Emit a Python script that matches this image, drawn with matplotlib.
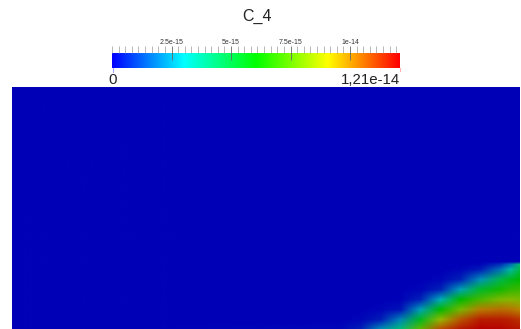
import numpy as np
import matplotlib
matplotlib.use("Agg")
import matplotlib.pyplot as plt
from matplotlib.colors import LinearSegmentedColormap
from matplotlib.ticker import MultipleLocator
from matplotlib.lines import Line2D
from matplotlib.image import NonUniformImage

# ---------------- data ----------------
title = "C_4"
vmin_val = 0.0
vmax_val = 1.21e-14
range_labels = ["0", "1,21e-14"]
major_ticks = [2.5e-15, 5e-15, 7.5e-15, 1e-14]
major_tick_labels = ["2.5e-15", "5e-15", "7.5e-15", "1e-14"]

# domain node coordinates (domain units, x to the right, y upwards)
x_nodes = [0, 328, 348, 368, 388, 408, 428, 448, 468, 488, 498, 507]
y_nodes = [0, 9, 19, 29, 39, 49, 59, 64, 67, 79, 241]

# C_4 as a fraction of its maximum, rows = y_nodes (bottom -> top), cols = x_nodes
c4_frac = [
    [0, 0.01, 0.04, 0.18, 0.33, 0.62, 0.88, 0.96, 1.00, 0.99, 0.98, 0.97],
    [0, 0.00, 0.01, 0.04, 0.18, 0.45, 0.70, 0.88, 0.96, 0.96, 0.95, 0.93],
    [0, 0.00, 0.00, 0.01, 0.03, 0.22, 0.50, 0.66, 0.83, 0.85, 0.84, 0.82],
    [0, 0.00, 0.00, 0.00, 0.005, 0.05, 0.24, 0.50, 0.60, 0.67, 0.68, 0.67],
    [0, 0.00, 0.00, 0.00, 0.00, 0.01, 0.05, 0.22, 0.44, 0.53, 0.57, 0.58],
    [0, 0.00, 0.00, 0.00, 0.00, 0.00, 0.01, 0.05, 0.20, 0.40, 0.46, 0.50],
    [0, 0.00, 0.00, 0.00, 0.00, 0.00, 0.00, 0.01, 0.04, 0.16, 0.28, 0.40],
    [0, 0.00, 0.00, 0.00, 0.00, 0.00, 0.00, 0.00, 0.01, 0.07, 0.15, 0.34],
    [0, 0.00, 0.00, 0.00, 0.00, 0.00, 0.00, 0.00, 0.00, 0.00, 0.00, 0.00],
    [0, 0.00, 0.00, 0.00, 0.00, 0.00, 0.00, 0.00, 0.00, 0.00, 0.00, 0.00],
    [0, 0.00, 0.00, 0.00, 0.00, 0.00, 0.00, 0.00, 0.00, 0.00, 0.00, 0.00],
]

# ---------------- colours ----------------
rainbow = [(0, 0, 1), (0, 1, 1), (0, 1, 0), (1, 1, 0), (1, 0, 0)]
cmap = LinearSegmentedColormap.from_list("blue_red_rainbow", rainbow, N=256)
shade = 0.72
cmap_shaded = LinearSegmentedColormap.from_list(
    "shaded", [tuple(shade * c for c in col) for col in rainbow], N=256)

FONT = ["Liberation Sans", "DejaVu Sans"]
W, H = 521, 329

fig = plt.figure(figsize=(W / 100, H / 100), dpi=100)
fig.patch.set_facecolor("white")

# ---------------- field ----------------
ax = fig.add_axes([12 / W, 0, 507 / W, 241 / H])
C = np.array(c4_frac) * vmax_val
im = NonUniformImage(ax, interpolation="bilinear", cmap=cmap_shaded,
                     extent=(x_nodes[0], x_nodes[-1], y_nodes[0], y_nodes[-1]))
im.set_clim(vmin_val, vmax_val)
im.set_data(np.array(x_nodes, float), np.array(y_nodes, float), C)
ax.add_image(im)
ax.set_xlim(x_nodes[0], x_nodes[-1])
ax.set_ylim(y_nodes[0], y_nodes[-1])
ax.axis("off")

# ---------------- colour bar ----------------
cax = fig.add_axes([112 / W, (H - 68) / H, 288 / W, 15 / H])
grad = np.linspace(vmin_val, vmax_val, 512)[None, :]
cax.imshow(grad, extent=[vmin_val, vmax_val, 0, 1], aspect="auto",
           cmap=cmap, vmin=vmin_val, vmax=vmax_val, interpolation="bilinear")
cax.set_xlim(vmin_val, vmax_val)
cax.set_ylim(0, 1)
cax.set_yticks([])
for s in cax.spines.values():
    s.set_visible(False)
cax.xaxis.tick_top()
cax.set_xticks(major_ticks)
cax.set_xticklabels(major_tick_labels)
cax.xaxis.set_minor_locator(MultipleLocator(2.5e-15 / 9))
cax.tick_params(axis="x", which="major", direction="inout", length=9.4,
                width=0.6, color="#666666", labelsize=5.0, pad=0.3,
                labelcolor="#333333")
cax.tick_params(axis="x", which="minor", direction="out", length=5.0,
                width=0.5, color="#9a9a9a")
for lab in cax.get_xticklabels():
    lab.set_family(FONT)

# range markers under the bar ends
fig.add_artist(Line2D([112.5 / W, 112.5 / W], [1 - 68 / H, 1 - 72 / H],
                      color="#9fa8ff", lw=0.8, transform=fig.transFigure))
fig.add_artist(Line2D([399.5 / W, 399.5 / W], [1 - 68 / H, 1 - 71 / H],
                      color="#ffb0b0", lw=0.8, transform=fig.transFigure))

# range labels and title
fig.text(112.5 / W, 1 - 84 / H, range_labels[0], ha="center", va="baseline",
         fontsize=10.8, family=FONT, color="#222222")
fig.text(400 / W, 1 - 84 / H, range_labels[1], ha="right", va="baseline",
         fontsize=10.8, family=FONT, color="#222222")
fig.text(257 / W, 1 - 21 / H, title, ha="center", va="baseline",
         fontsize=11.5, family=FONT, color="#222222")

fig.savefig("out.png", dpi=100, facecolor="white")
